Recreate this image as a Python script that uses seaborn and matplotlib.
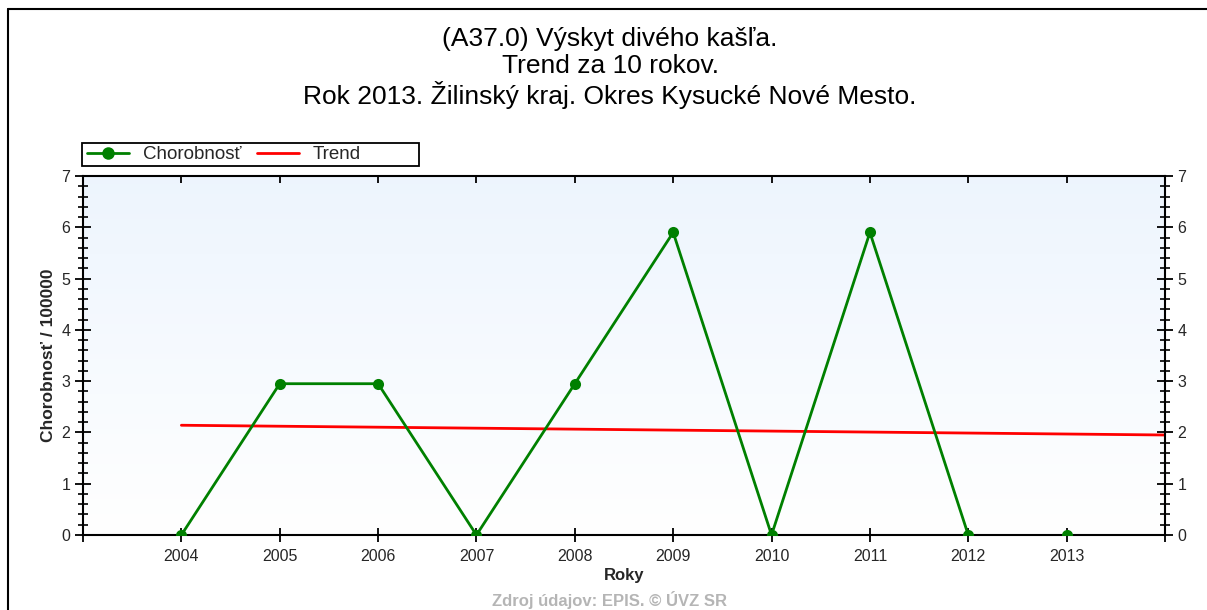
import numpy as np
import pandas as pd
import matplotlib
matplotlib.use('Agg')
import matplotlib.pyplot as plt
from matplotlib.lines import Line2D
from matplotlib.patches import Rectangle
import seaborn as sns

# udaje z grafu
roky = [2004, 2005, 2006, 2007, 2008, 2009, 2010, 2011, 2012, 2013]
chorobnost = [0, 2.95, 2.95, 0, 2.95, 5.9, 0, 5.9, 0, 0]
usek = [1, 1, 1, 1, 1, 1, 1, 1, 1, 2]   # 2013 nie je spojeny ciarou
trend_roky = [2004, 2014]
trend_hodnoty = [2.14, 1.95]

nadpis = ('(A37.0) Výskyt divého kašľa.\nTrend za 10 rokov.\n'
          'Rok 2013. Žilinský kraj. Okres Kysucké Nové Mesto.')

sns.set_theme(style='white')
plt.rcParams['font.family'] = ['Liberation Sans', 'DejaVu Sans']

df = pd.DataFrame({'Rok': roky, 'Chorobnost': chorobnost, 'usek': usek})

W, H = 1207, 610
fig = plt.figure(figsize=(W / 100, H / 100), dpi=100)
ax = fig.add_axes([83/W, 75/H, (1165-83)/W, (535-176)/H])

# pozadie - prechod z modrej do bielej
grad = np.linspace(0, 1, 256).reshape(-1, 1)
top = np.array([0.93, 0.96, 0.995])
bot = np.array([1.0, 1.0, 1.0])
img = top * (1 - grad[..., None]) + bot * grad[..., None]
ax.imshow(img, extent=[0, 1, 0, 1], transform=ax.transAxes, aspect='auto', zorder=0)

zelena = '#008000'
sns.lineplot(data=df, x='Rok', y='Chorobnost', units='usek', estimator=None,
             color=zelena, lw=2, marker='o', markersize=8, markeredgewidth=0,
             ax=ax, zorder=3, legend=False)
sns.lineplot(x=trend_roky, y=trend_hodnoty, color='red', lw=2, ax=ax, zorder=2)

ax.set_xlim(2003, 2014)
ax.set_ylim(0, 7)
ax.set_xticks(range(2003, 2015))
ax.set_xticklabels([''] + [str(r) for r in roky] + [''])
ax.set_yticks(range(0, 8))
ax.set_yticks(np.arange(0, 7.01, 0.2), minor=True)

ax.tick_params(axis='x', which='major', bottom=True, top=True, direction='inout',
               length=10, width=1.3, color='black', labelsize=11.5, pad=5)
ax.tick_params(axis='y', which='both', left=True, right=True, labelright=True,
               direction='inout', color='black', labelsize=11.5, pad=3)
ax.tick_params(axis='y', which='major', length=12, width=1.3)
ax.tick_params(axis='y', which='minor', length=7, width=1.2)
for t in ax.xaxis.get_major_ticks():
    t.tick2line.set_marker(3)  # horne ticky iba dovnutra
    t.tick2line.set_markersize(5)

for s in ax.spines.values():
    s.set_color('black')
    s.set_linewidth(1.5)
    s.set_visible(True)

ax.set_xlabel('Roky', fontsize=12, fontweight='bold', labelpad=3)
ax.set_ylabel('Chorobnosť / 100000', fontsize=12.5, fontweight='bold', labelpad=4)
ax.grid(False)

fig.text(610/W, 1 - 68/H, nadpis, ha='center', va='center', fontsize=19,
         linespacing=1.15, color='black')

# legenda
handles = [Line2D([], [], color=zelena, lw=2, marker='o', markersize=9, markeredgewidth=0),
           Line2D([], [], color='red', lw=2)]
leg = fig.legend(handles, ['Chorobnosť', 'Trend'], loc='center left',
                 bbox_to_anchor=(82/W, 1 - 154.5/H), ncol=2, frameon=False,
                 fontsize=13.5, handlelength=2.25, borderpad=0.27,
                 columnspacing=0.8, handletextpad=0.75, borderaxespad=0)
fig.add_artist(Rectangle((82/W, 1 - 166/H), (419-82)/W, 23/H, fill=False,
                         edgecolor='black', lw=1.3, transform=fig.transFigure))

# ramcek obrazku
fig.add_artist(Line2D([8/W, 1], [1 - 9/H, 1 - 9/H], color='black', lw=1.5,
                      transform=fig.transFigure))
fig.add_artist(Line2D([8/W, 8/W], [0, 1 - 9/H], color='black', lw=1.5,
                      transform=fig.transFigure))

fig.text(610/W, 1/H, 'Zdroj údajov: EPIS. © ÚVZ SR', ha='center', va='bottom',
         fontsize=12, fontweight='bold', color='#b5b5b5')

fig.savefig('out.png', dpi=100, facecolor='white')
